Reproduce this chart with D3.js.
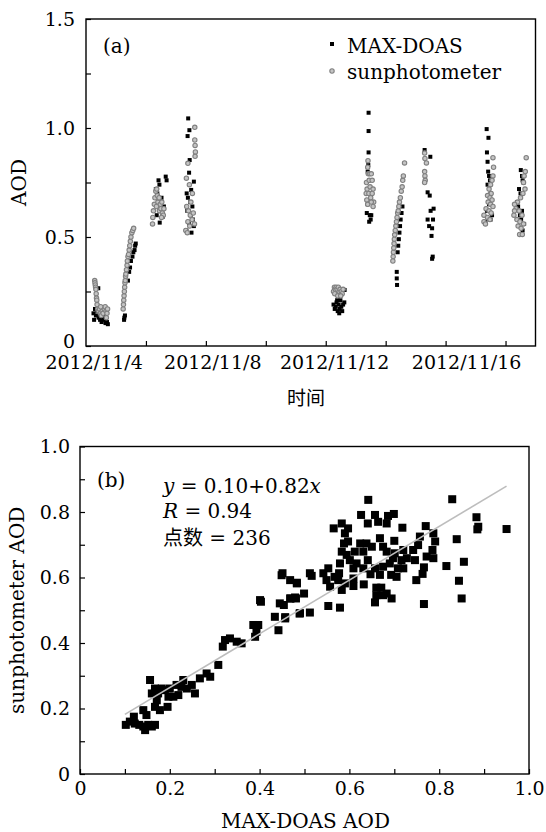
<!DOCTYPE html>
<html>
<head>
<meta charset="utf-8">
<title>MAX-DOAS vs sunphotometer AOD</title>
<script src="https://cdn.jsdelivr.net/npm/d3@7"></script>
<style>
  body { margin: 0; background: #fff; }
  text { font-family: "DejaVu Serif", "Noto Sans CJK SC", serif; fill: #000; }
</style>
</head>
<body>
<svg id="svg"></svg>
<script>
// ---- chart (a): time series, x = day of Nov 2012 (fractional), y = AOD ----
var maxDoas = [
  [4.25,0.15],[4.27,0.12],[4.30,0.17],[4.33,0.14],[4.41,0.265],[4.38,0.16],[4.42,0.13],[4.47,0.12],
  [4.52,0.11],[4.55,0.13],[4.60,0.12],[4.65,0.105],[4.70,0.11],[4.73,0.10],[4.45,0.14],[4.58,0.14],
  [5.27,0.12],[5.28,0.13],[5.30,0.14],[5.40,0.30],[5.44,0.34],[5.47,0.36],[5.50,0.39],[5.55,0.41],
  [5.58,0.43],[5.62,0.44],[5.64,0.46],[5.66,0.47],
  [6.33,0.72],[6.42,0.76],[6.66,0.777],[6.69,0.76],[6.45,0.74],[6.38,0.70],[6.40,0.66],[6.50,0.62],
  [6.56,0.593],[6.46,0.566],[6.60,0.64],[6.52,0.68],[6.36,0.60],
  [7.41,1.044],[7.45,0.99],[7.39,0.963],[7.46,0.853],[7.44,0.795],[7.60,0.754],[7.51,0.716],[7.36,0.70],
  [7.40,0.68],[7.48,0.66],[7.55,0.64],[7.38,0.62],[7.50,0.60],[7.57,0.58],[7.44,0.56],[7.60,0.55],
  [7.35,0.53],[7.52,0.52],
  [12.26,0.19],[12.30,0.17],[12.33,0.18],[12.36,0.20],[12.40,0.16],[12.43,0.19],[12.46,0.17],[12.49,0.21],
  [12.52,0.18],[12.55,0.16],[12.58,0.19],[12.62,0.20],[12.45,0.15],[12.38,0.21],[12.63,0.257],
  [13.43,1.07],[13.43,0.986],[13.43,0.888],[13.42,0.83],[13.40,0.80],[13.45,0.76],[13.48,0.70],[13.37,0.61],
  [13.47,0.60],[13.50,0.58],[13.52,0.60],[13.45,0.57],[13.40,0.65],
  [14.37,0.34],[14.37,0.31],[14.38,0.28],[14.40,0.43],[14.42,0.46],[14.44,0.49],[14.46,0.52],[14.48,0.55],
  [14.50,0.58],[14.53,0.61],[14.56,0.64],
  [15.30,0.899],[15.49,0.868],[15.40,0.705],[15.47,0.69],[15.60,0.63],[15.50,0.62],[15.40,0.58],[15.58,0.58],
  [15.45,0.55],[15.55,0.54],[15.53,0.505],[15.57,0.41],[15.55,0.40],
  [17.37,0.995],[17.43,0.955],[17.38,0.888],[17.40,0.845],[17.42,0.80],[17.45,0.78],[17.48,0.76],[17.40,0.74],
  [17.50,0.70],[17.45,0.65],[17.38,0.62],[17.55,0.60],[17.33,0.57],[17.50,0.58],
  [18.51,0.807],[18.55,0.78],[18.57,0.76],[18.60,0.75],[18.45,0.72],[18.50,0.70],[18.38,0.66],[18.42,0.64],
  [18.55,0.62],[18.48,0.60],[18.52,0.58],[18.62,0.56],[18.57,0.53]
];

var sunPhoto = [
  [4.29,0.30],[4.30,0.29],[4.31,0.28],[4.32,0.27],[4.33,0.26],[4.34,0.24],[4.35,0.22],[4.36,0.21],
  [4.37,0.19],[4.39,0.17],[4.42,0.16],[4.45,0.17],[4.48,0.15],[4.51,0.14],[4.54,0.16],[4.57,0.15],
  [4.61,0.17],[4.64,0.18],[4.67,0.16],[4.70,0.15],[4.72,0.17],[4.68,0.13],[4.49,0.18],
  [5.24,0.17],[5.25,0.19],[5.26,0.21],[5.27,0.23],[5.28,0.25],[5.29,0.27],[5.30,0.29],[5.31,0.30],
  [5.32,0.32],[5.33,0.33],[5.35,0.35],[5.37,0.37],[5.38,0.39],[5.40,0.41],[5.42,0.42],[5.44,0.44],
  [5.46,0.46],[5.48,0.48],[5.50,0.50],[5.53,0.52],[5.56,0.53],[5.59,0.54],
  [6.22,0.56],[6.23,0.59],[6.25,0.62],[6.28,0.65],[6.30,0.68],[6.33,0.71],[6.36,0.72],[6.38,0.69],
  [6.40,0.66],[6.42,0.64],[6.45,0.62],[6.48,0.65],[6.50,0.63],[6.53,0.66],[6.55,0.61],[6.58,0.60],
  [6.60,0.63],[6.35,0.64],[6.44,0.68],[6.52,0.59],
  [7.63,1.003],[7.63,0.945],[7.64,0.92],[7.65,0.89],[7.64,0.87],[7.40,0.838],[7.35,0.77],[7.45,0.74],
  [7.55,0.70],[7.50,0.66],[7.36,0.64],[7.42,0.62],[7.48,0.60],[7.54,0.58],[7.40,0.57],[7.46,0.55],
  [7.33,0.53],[7.38,0.52],[7.58,0.61],[7.62,0.56],
  [12.26,0.25],[12.29,0.27],[12.32,0.26],[12.35,0.27],[12.38,0.26],[12.42,0.27],[12.45,0.25],[12.48,0.26],
  [12.52,0.25],[12.55,0.24],[12.30,0.24],[12.40,0.23],[12.50,0.23],[12.58,0.26],
  [13.41,0.85],[13.40,0.82],[13.42,0.79],[13.47,0.79],[13.52,0.79],[13.36,0.75],[13.45,0.76],[13.55,0.76],
  [13.38,0.72],[13.48,0.73],[13.58,0.72],[13.35,0.70],[13.44,0.70],[13.55,0.70],[13.37,0.67],[13.50,0.68],
  [13.60,0.66],[13.40,0.65],[13.58,0.64],[13.52,0.66],
  [14.24,0.39],[14.25,0.41],[14.26,0.43],[14.27,0.45],[14.28,0.47],[14.29,0.49],[14.30,0.51],[14.32,0.53],
  [14.34,0.55],[14.36,0.57],[14.38,0.59],[14.40,0.61],[14.42,0.62],[14.44,0.64],[14.46,0.66],[14.49,0.68],
  [14.52,0.71],[14.55,0.73],[14.57,0.76],[14.59,0.78],[14.63,0.84],
  [15.30,0.885],[15.31,0.86],[15.36,0.84],[15.30,0.80],[15.31,0.78],[15.32,0.76],[15.30,0.75],
  [17.58,0.864],[17.60,0.82],[17.58,0.78],[17.55,0.76],[17.50,0.74],[17.45,0.72],[17.52,0.70],[17.40,0.69],
  [17.48,0.68],[17.55,0.67],[17.42,0.66],[17.50,0.65],[17.58,0.64],[17.35,0.63],[17.45,0.62],[17.52,0.61],
  [17.28,0.60],[17.40,0.59],[17.48,0.58],[17.28,0.57],[17.33,0.56],
  [18.69,0.864],[18.66,0.80],[18.62,0.78],[18.60,0.75],[18.65,0.72],[18.58,0.70],[18.50,0.68],[18.40,0.66],
  [18.30,0.65],[18.35,0.63],[18.45,0.62],[18.55,0.60],[18.28,0.60],[18.38,0.58],[18.48,0.57],[18.60,0.56],
  [18.42,0.55],[18.52,0.54],[18.47,0.512],[18.56,0.512],[18.30,0.62]
];

var timeTicks = [6, 8, 10, 12, 14, 16, 18];
var timeLabels = ["2012/11/4", "2012/11/8", "2012/11/12", "2012/11/16"];
var timeLabelDays = [4.27, 8.23, 12.3, 16.7];   // where the labels sit on the date axis
var aodTicks = [0, 0.25, 0.5, 0.75, 1.0, 1.25, 1.5];

// ---- chart (b): scatter, x = MAX-DOAS AOD, y = sunphotometer AOD ----
var scatter = [
  [0.102,0.150],[0.111,0.160],[0.120,0.175],[0.122,0.154],[0.132,0.150],[0.141,0.145],[0.145,0.134],[0.152,0.150],
  [0.160,0.145],[0.167,0.150],[0.141,0.195],[0.148,0.180],[0.156,0.287],[0.160,0.246],[0.167,0.261],[0.171,0.225],
  [0.167,0.205],[0.178,0.195],[0.174,0.246],[0.182,0.261],[0.189,0.256],[0.195,0.205],[0.197,0.236],[0.200,0.261],
  [0.208,0.236],[0.215,0.272],[0.219,0.241],[0.226,0.266],[0.230,0.287],[0.238,0.261],[0.249,0.272],[0.256,0.246],
  [0.267,0.292],[0.282,0.307],[0.290,0.297],[0.308,0.333],[0.318,0.389],[0.323,0.409],[0.334,0.414],[0.349,0.404],
  [0.360,0.399],[0.386,0.455],[0.397,0.455],[0.393,0.434],[0.390,0.419],[0.401,0.531],[0.403,0.526],[0.434,0.480],
  [0.442,0.439],[0.445,0.521],[0.449,0.607],[0.457,0.475],[0.454,0.516],[0.468,0.592],[0.469,0.536],[0.481,0.536],
  [0.483,0.582],[0.489,0.490],
  [0.642,0.837],[0.829,0.839],[0.626,0.791],[0.657,0.791],[0.641,0.765],[0.664,0.770],[0.683,0.765],[0.686,0.788],
  [0.699,0.794],[0.718,0.752],[0.565,0.750],[0.583,0.765],[0.597,0.750],[0.590,0.735],[0.588,0.704],[0.583,0.679],
  [0.597,0.710],[0.624,0.704],[0.638,0.704],[0.612,0.679],[0.631,0.679],[0.650,0.694],[0.668,0.720],[0.675,0.694],
  [0.683,0.679],[0.700,0.712],[0.701,0.674],[0.720,0.684],[0.728,0.659],[0.746,0.653],[0.757,0.725],[0.770,0.757],
  [0.787,0.735],[0.791,0.710],[0.785,0.684],[0.772,0.664],[0.787,0.659],[0.766,0.631],[0.763,0.611],[0.749,0.592],
  [0.816,0.635],[0.839,0.717],[0.855,0.648],[0.844,0.590],[0.850,0.536],[0.883,0.784],[0.887,0.755],[0.885,0.747],
  [0.950,0.748],[0.766,0.519],[0.553,0.628],[0.542,0.613],[0.549,0.592],[0.557,0.572],[0.567,0.602],[0.579,0.643],
  [0.577,0.613],[0.590,0.582],[0.583,0.562],[0.601,0.653],[0.609,0.628],[0.609,0.574],[0.632,0.579],[0.647,0.610],
  [0.657,0.628],[0.660,0.569],[0.671,0.569],[0.668,0.608],[0.675,0.633],[0.690,0.643],[0.693,0.608],[0.705,0.602],
  [0.708,0.628],[0.720,0.628],[0.660,0.546],[0.675,0.546],[0.683,0.551],[0.694,0.536],[0.657,0.524],[0.553,0.513],
  [0.579,0.508],[0.512,0.613],[0.516,0.605],[0.483,0.584],[0.499,0.551],[0.479,0.539],[0.468,0.536],[0.512,0.493],
  [0.490,0.491],[0.457,0.479],[0.451,0.613],[0.616,0.643],[0.716,0.653],[0.697,0.659],[0.742,0.684],[0.753,0.699],
  [0.631,0.628],[0.641,0.653],[0.594,0.669],[0.575,0.592],[0.609,0.597]
];

var fitA = 0.10, fitB = 0.82;           // y = a + b x
var fitRange = [0.10, 0.95];
var scatterTicks = [0, 0.1, 0.2, 0.3, 0.4, 0.5, 0.6, 0.7, 0.8, 0.9, 1.0];

var width = 546, height = 832;
var svg = d3.select("#svg").attr("width", width).attr("height", height);

function fmt(d) {
  var r = Math.round(d * 100) / 100;
  if (r === 0) return "0";
  return r.toFixed(1);
}

// ================= (a) =================
var mA = {left: 86, right: 535.5, top: 19, bottom: 346};
var xA = d3.scaleLinear().domain([4, 19]).range([mA.left, mA.right]);
var yA = d3.scaleLinear().domain([0, 1.5]).range([mA.bottom, mA.top]);

svg.append("g")
  .attr("transform", "translate(0," + mA.bottom + ")")
  .call(d3.axisBottom(xA).tickValues(timeTicks).tickSizeInner(-5).tickSizeOuter(0).tickFormat(""))
  .call(function(g) { g.select(".domain").remove(); })
  .selectAll("line").attr("stroke", "#000").attr("stroke-width", 1.2);

svg.append("g")
  .attr("transform", "translate(" + mA.left + ",0)")
  .call(d3.axisLeft(yA).tickValues(aodTicks).tickSizeInner(-5).tickSizeOuter(0).tickPadding(11)
        .tickFormat(function(d) { return (Math.round(d * 100) % 50 === 0) ? fmt(d) : ""; }))
  .call(function(g) {
    g.select(".domain").remove();
    g.selectAll("line").attr("stroke", "#000").attr("stroke-width", 1.2);
    g.selectAll("text").style("font-family", "DejaVu Serif").style("font-size", "19px");
    // the "0" sits a touch higher so it clears the date labels
    g.selectAll("text").filter(function(d) { return d === 0; }).attr("dy", "0.1em");
  });

svg.selectAll(".tlab").data(timeLabels).enter().append("text")
  .attr("class", "tlab")
  .attr("x", function(d, i) { return xA(timeLabelDays[i]); })
  .attr("y", 369)
  .attr("text-anchor", "middle")
  .style("font-size", "19px")
  .text(function(d) { return d; });

svg.append("rect")
  .attr("x", mA.left).attr("y", mA.top)
  .attr("width", mA.right - mA.left).attr("height", mA.bottom - mA.top)
  .attr("fill", "none").attr("stroke", "#000").attr("stroke-width", 1.4);

var bodyA = svg.append("g");
bodyA.selectAll("rect.doas").data(maxDoas).enter().append("rect")
  .attr("class", "doas")
  .attr("x", function(d) { return xA(d[0]) - 2; })
  .attr("y", function(d) { return yA(d[1]) - 2; })
  .attr("width", 4).attr("height", 4)
  .attr("fill", "#000");

bodyA.selectAll("circle.sun").data(sunPhoto).enter().append("circle")
  .attr("class", "sun")
  .attr("cx", function(d) { return xA(d[0]); })
  .attr("cy", function(d) { return yA(d[1]); })
  .attr("r", 2.2)
  .attr("fill", "#c4c4c4").attr("stroke", "#808080").attr("stroke-width", 1.1);

// legend
svg.append("rect").attr("x", 330).attr("y", 42).attr("width", 4).attr("height", 4).attr("fill", "#000");
svg.append("circle").attr("cx", 332).attr("cy", 71).attr("r", 2.2)
  .attr("fill", "#c4c4c4").attr("stroke", "#808080").attr("stroke-width", 1.1);
svg.append("text").attr("x", 347).attr("y", 53).style("font-size", "20px").text("MAX-DOAS");
svg.append("text").attr("x", 347).attr("y", 79).style("font-size", "20px").text("sunphotometer");

svg.append("text").attr("x", 103).attr("y", 53).style("font-size", "20px").text("(a)");

svg.append("text")
  .attr("transform", "translate(26," + ((mA.top + mA.bottom) / 2) + ")rotate(-90)")
  .attr("text-anchor", "middle").style("font-size", "20px").text("AOD");

svg.append("text")
  .attr("x", 306).attr("y", 405)
  .attr("text-anchor", "middle")
  .style("font-family", "Noto Sans CJK SC").style("font-size", "19px")
  .text("时间");

// ================= (b) =================
var mB = {left: 80, right: 529, top: 446.5, bottom: 774};
var xB = d3.scaleLinear().domain([0, 1]).range([mB.left, mB.right]);
var yB = d3.scaleLinear().domain([0, 1]).range([mB.bottom, mB.top]);

function major(d) { return (Math.round(d * 10) % 2 === 0) ? fmt(d) : ""; }

svg.append("g")
  .attr("transform", "translate(0," + mB.bottom + ")")
  .call(d3.axisBottom(xB).tickValues(scatterTicks).tickSizeInner(-5).tickSizeOuter(0).tickPadding(8).tickFormat(major))
  .call(function(g) {
    g.select(".domain").remove();
    g.selectAll("line").attr("stroke", "#000").attr("stroke-width", 1.2);
    g.selectAll("text").style("font-family", "DejaVu Serif").style("font-size", "19px");
  });

svg.append("g")
  .attr("transform", "translate(" + mB.left + ",0)")
  .call(d3.axisLeft(yB).tickValues(scatterTicks).tickSizeInner(-5).tickSizeOuter(0).tickPadding(10).tickFormat(major))
  .call(function(g) {
    g.select(".domain").remove();
    g.selectAll("line").attr("stroke", "#000").attr("stroke-width", 1.2);
    g.selectAll("text").style("font-family", "DejaVu Serif").style("font-size", "19px");
  });

svg.append("rect")
  .attr("x", mB.left).attr("y", mB.top)
  .attr("width", mB.right - mB.left).attr("height", mB.bottom - mB.top)
  .attr("fill", "none").attr("stroke", "#000").attr("stroke-width", 1.4);

svg.append("g").selectAll("rect").data(scatter).enter().append("rect")
  .attr("x", function(d) { return xB(d[0]) - 4; })
  .attr("y", function(d) { return yB(d[1]) - 4; })
  .attr("width", 8).attr("height", 8)
  .attr("fill", "#000");

svg.append("line")
  .attr("x1", xB(fitRange[0])).attr("y1", yB(fitA + fitB * fitRange[0]))
  .attr("x2", xB(fitRange[1])).attr("y2", yB(fitA + fitB * fitRange[1]))
  .attr("stroke", "#bdbdbd").attr("stroke-width", 1.6);

svg.append("text").attr("x", 97).attr("y", 487).style("font-size", "20px").text("(b)");

var eq = svg.append("text").attr("x", 163).attr("y", 493).style("font-size", "20px");
eq.append("tspan").style("font-style", "italic").text("y");
eq.append("tspan").text(" = " + fitA.toFixed(2) + "+" + fitB.toFixed(2));
eq.append("tspan").style("font-style", "italic").text("x");

var rt = svg.append("text").attr("x", 163).attr("y", 518).style("font-size", "20px");
rt.append("tspan").style("font-style", "italic").text("R");
rt.append("tspan").text(" = 0.94");

svg.append("text").attr("x", 163).attr("y", 545).style("font-size", "20px").text("点数 = 236");

svg.append("text")
  .attr("x", (mB.left + mB.right) / 2 + 1).attr("y", 828)
  .attr("text-anchor", "middle").style("font-size", "20px").text("MAX-DOAS AOD");

svg.append("text")
  .attr("transform", "translate(24," + ((mB.top + mB.bottom) / 2) + ")rotate(-90)")
  .attr("text-anchor", "middle").style("font-size", "20px").text("sunphotometer AOD");
</script>
</body>
</html>
